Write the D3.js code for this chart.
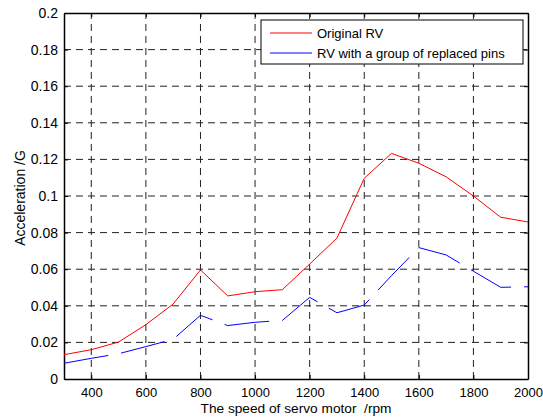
<!DOCTYPE html>
<html>
<head>
<meta charset="utf-8">
<script src="https://cdn.jsdelivr.net/npm/d3@7"></script>
<style>
  body { margin: 0; background: #fff; }
  text { font-family: "Liberation Sans", Arial, sans-serif; }
</style>
</head>
<body>
<script>
var speeds = [300, 400, 500, 600, 700, 800, 900, 1000, 1100, 1200, 1300, 1400, 1500, 1600, 1700, 1800, 1900, 2000];
var originalRV = [0.0133, 0.016, 0.0202, 0.0297, 0.041, 0.0596, 0.0454, 0.0477, 0.0488, 0.0628, 0.077, 0.1097, 0.1233, 0.1179, 0.1105, 0.100, 0.0884, 0.0858];
var replacedPins = [0.0086, 0.0113, 0.0138, 0.0177, 0.0217, 0.0348, 0.0292, 0.031, 0.032, 0.0446, 0.0362, 0.0404, 0.0565, 0.0718, 0.0678, 0.0589, 0.0501, 0.0504];
var xTicks = [400, 600, 800, 1000, 1200, 1400, 1600, 1800, 2000];
var yTicks = [0, 0.02, 0.04, 0.06, 0.08, 0.1, 0.12, 0.14, 0.16, 0.18, 0.2];
var legendNames = ['Original RV', 'RV with a group of replaced pins'];

var width = 543;
var height = 420;
// plot box (note: "top" is taken by window.top)
var pLeft = 64, pRight = 528, pTop = 13, pBottom = 379;

var svg = d3.select('body')
  .append('svg')
  .attr('width', width)
  .attr('height', height);

var x = d3.scaleLinear().domain([300, 2000]).range([pLeft, pRight]);
var y = d3.scaleLinear().domain([0, 0.2]).range([pBottom, pTop]);

// grid
var grid = svg.append('g')
  .attr('stroke', '#222')
  .attr('stroke-width', 1)
  .attr('stroke-dasharray', '7,5');

grid.selectAll('line.gx')
  .data(xTicks.filter(function (d) { return d < 2000; }))
  .enter()
  .append('line')
  .attr('x1', function (d) { return x(d); })
  .attr('x2', function (d) { return x(d); })
  .attr('y1', pBottom)
  .attr('y2', pTop);

grid.selectAll('line.gy')
  .data(yTicks.filter(function (d) { return d > 0 && d < 0.2; }))
  .enter()
  .append('line')
  .attr('y1', function (d) { return y(d); })
  .attr('y2', function (d) { return y(d); })
  .attr('x1', pLeft)
  .attr('x2', pRight);

// axes, ticks inside like matlab
var xAxisG = svg.append('g')
  .attr('transform', 'translate(0,' + pBottom + ')')
  .call(d3.axisBottom(x).tickValues(xTicks).tickSizeInner(-4).tickSizeOuter(0).tickPadding(9)
    .tickFormat(d3.format('d')));
var yAxisG = svg.append('g')
  .attr('transform', 'translate(' + pLeft + ',0)')
  .call(d3.axisLeft(y).tickValues(yTicks).tickSizeInner(-4).tickSizeOuter(0).tickPadding(6)
    .tickFormat(function (d) { return String(+d.toFixed(2)); }));
svg.append('g')
  .attr('transform', 'translate(0,' + pTop + ')')
  .call(d3.axisTop(x).tickValues(xTicks).tickSizeInner(-4).tickSizeOuter(0).tickFormat(''));
svg.append('g')
  .attr('transform', 'translate(' + pRight + ',0)')
  .call(d3.axisRight(y).tickValues(yTicks).tickSizeInner(-4).tickSizeOuter(0).tickFormat(''));

svg.selectAll('.domain').attr('stroke', '#000').attr('stroke-width', 1.5);
svg.selectAll('.tick line').attr('stroke', '#000');
svg.selectAll('.tick text')
  .attr('fill', '#000')
  .style('font-family', '"Liberation Sans", Arial, sans-serif');
xAxisG.selectAll('.tick text').attr('font-size', 13);
yAxisG.selectAll('.tick text').attr('font-size', 14);

// data lines
var line = d3.line()
  .x(function (d, i) { return x(speeds[i]); })
  .y(function (d) { return y(d); });

svg.append('path')
  .datum(originalRV)
  .attr('fill', 'none')
  .attr('stroke', '#ff0000')
  .attr('stroke-width', 1)
  .attr('d', line);

svg.append('path')
  .datum(replacedPins)
  .attr('fill', 'none')
  .attr('stroke', '#0000ff')
  .attr('stroke-width', 1)
  .attr('stroke-dasharray', '45,13')
  .attr('d', line);

// legend
var legend = svg.append('g');
legend.append('rect')
  .attr('x', 261).attr('y', 20)
  .attr('width', 262).attr('height', 44)
  .attr('fill', '#fff')
  .attr('stroke', '#000')
  .attr('stroke-width', 1);

var legendColors = ['#ff0000', '#0000ff'];
legendNames.forEach(function (name, i) {
  var ly = 33 + i * 20;
  legend.append('line')
    .attr('x1', 270).attr('x2', 312)
    .attr('y1', ly).attr('y2', ly)
    .attr('stroke', legendColors[i]);
  legend.append('text')
    .attr('x', 317).attr('y', ly + 4.5)
    .attr('font-size', 13)
    .text(name);
});

// axis labels
svg.append('text')
  .attr('x', 296)
  .attr('y', 413)
  .attr('text-anchor', 'middle')
  .attr('font-size', 13.7)
  .style('white-space', 'pre')
  .text('The speed of servo motor  /rpm');

svg.append('text')
  .attr('transform', 'translate(25,198) rotate(-90)')
  .attr('text-anchor', 'middle')
  .attr('font-size', 14)
  .text('Acceleration /G');
</script>
</body>
</html>
